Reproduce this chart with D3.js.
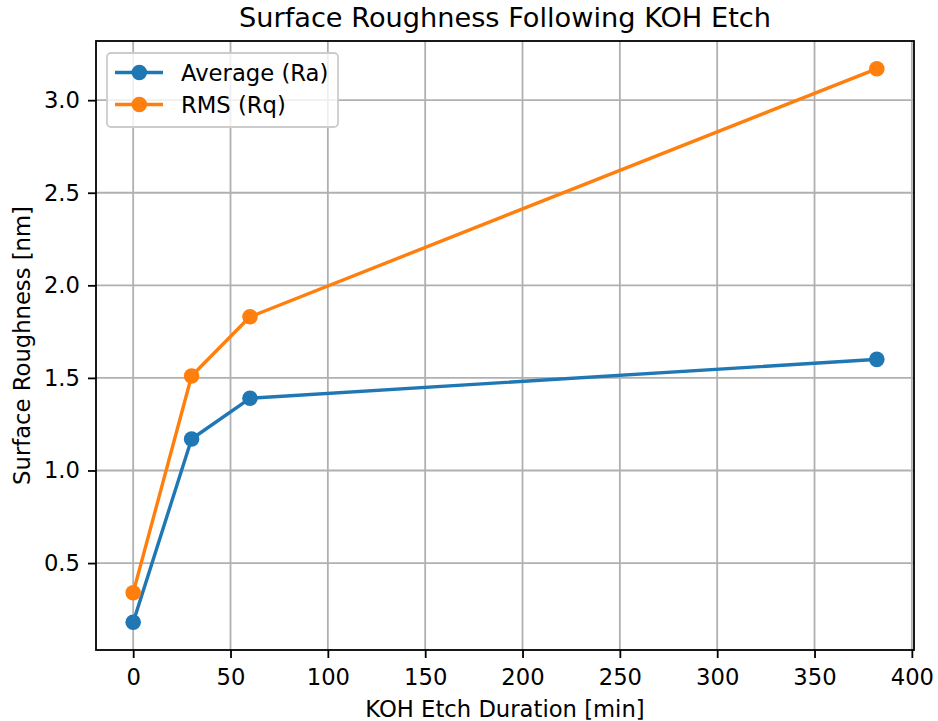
<!DOCTYPE html>
<html><head><meta charset="utf-8">
<script src="https://cdn.jsdelivr.net/npm/d3@7"></script>
<style>body{margin:0;background:#fff}svg{display:block}text{font-family:"DejaVu Sans",sans-serif;fill:#000}</style>
</head><body>
<script>
const durations = [0, 30, 60, 382];
const averageRa = [0.18, 1.17, 1.39, 1.60];
const rmsRq = [0.34, 1.51, 1.83, 3.17];
const seriesNames = ["Average (Ra)", "RMS (Rq)"];
const seriesColors = ["#1f77b4", "#ff7f0e"];
const xTicks = [0, 50, 100, 150, 200, 250, 300, 350, 400];
const yTicks = [0.5, 1.0, 1.5, 2.0, 2.5, 3.0];

const W = 938, H = 721;
const L = 96, R = 914, T = 41, B = 650;
const FS = 22.7, TFS = 27.2;
const svg = d3.select("body").append("svg").attr("width", W).attr("height", H);

const allY = averageRa.concat(rmsRq);
const xmin = d3.min(durations), xmax = d3.max(durations);
const ymin = d3.min(allY), ymax = d3.max(allY);
const xm = (xmax - xmin) * 0.05, ym = (ymax - ymin) * 0.05;
const x = d3.scaleLinear().domain([xmin - xm, xmax + xm]).range([L, R]);
const y = d3.scaleLinear().domain([ymin - ym, ymax + ym]).range([B, T]);

// grid
const g = svg.append("g");
g.selectAll(".gx").data(xTicks).enter().append("line")
  .attr("x1", d => x(d)).attr("x2", d => x(d)).attr("y1", T).attr("y2", B)
  .attr("stroke", "#b0b0b0").attr("stroke-width", 1.8);
g.selectAll(".gy").data(yTicks).enter().append("line")
  .attr("y1", d => y(d)).attr("y2", d => y(d)).attr("x1", L).attr("x2", R)
  .attr("stroke", "#b0b0b0").attr("stroke-width", 1.8);

// axes
const xAxis = d3.axisBottom(x).tickValues(xTicks).tickFormat(d3.format("d")).tickSizeInner(8).tickSizeOuter(0).tickPadding(10.5);
const yAxis = d3.axisLeft(y).tickValues(yTicks).tickFormat(d3.format(".1f")).tickSizeInner(8).tickSizeOuter(0).tickPadding(8);
const ax = svg.append("g").attr("transform", `translate(0,${B})`).call(xAxis);
const ay = svg.append("g").attr("transform", `translate(${L},0)`).call(yAxis);
[ax, ay].forEach(a => {
  a.select(".domain").remove();
  a.selectAll(".tick line").attr("stroke", "#000").attr("stroke-width", 1.8);
  a.selectAll(".tick text").attr("font-size", FS).attr("font-family", "DejaVu Sans").attr("fill", "#000");
});

// series
const series = [averageRa, rmsRq];
const line = d3.line().x((d, i) => x(durations[i])).y(d => y(d));
series.forEach((s, k) => {
  svg.append("path").datum(s).attr("d", line).attr("fill", "none")
    .attr("stroke", seriesColors[k]).attr("stroke-width", 3.4).attr("stroke-linejoin", "round").attr("stroke-linecap", "square");
  svg.selectAll(null).data(s).enter().append("circle")
    .attr("cx", (d, i) => x(durations[i])).attr("cy", d => y(d)).attr("r", 7.8)
    .attr("fill", seriesColors[k]);
});

// spines
svg.append("rect").attr("x", L).attr("y", T).attr("width", R - L).attr("height", B - T)
  .attr("fill", "none").attr("stroke", "#000").attr("stroke-width", 1.8);

// legend
const lg = svg.append("g");
lg.append("rect").attr("x", 107).attr("y", 53).attr("width", 231).attr("height", 74).attr("rx", 4)
  .attr("fill", "#fff").attr("fill-opacity", 0.8).attr("stroke", "#cccccc").attr("stroke-width", 1.8);
seriesNames.forEach((n, k) => {
  const yy = 72.5 + k * 32;
  lg.append("line").attr("x1", 115).attr("x2", 163).attr("y1", yy).attr("y2", yy)
    .attr("stroke", seriesColors[k]).attr("stroke-width", 3.4);
  lg.append("circle").attr("cx", 139.3).attr("cy", yy).attr("r", 7.8).attr("fill", seriesColors[k]);
  lg.append("text").attr("x", 181).attr("y", yy).attr("dy", "0.36em").attr("font-size", FS).text(n);
});

// title and labels
svg.append("text").attr("x", (L + R) / 2).attr("y", 26.7).attr("text-anchor", "middle")
  .attr("font-size", TFS).text("Surface Roughness Following KOH Etch");
svg.append("text").attr("x", (L + R) / 2).attr("y", 717).attr("text-anchor", "middle")
  .attr("font-size", FS).text("KOH Etch Duration [min]");
svg.append("text").attr("transform", `translate(30,${(T + B) / 2}) rotate(-90)`).attr("text-anchor", "middle")
  .attr("font-size", FS).text("Surface Roughness [nm]");
</script>
</body></html>
